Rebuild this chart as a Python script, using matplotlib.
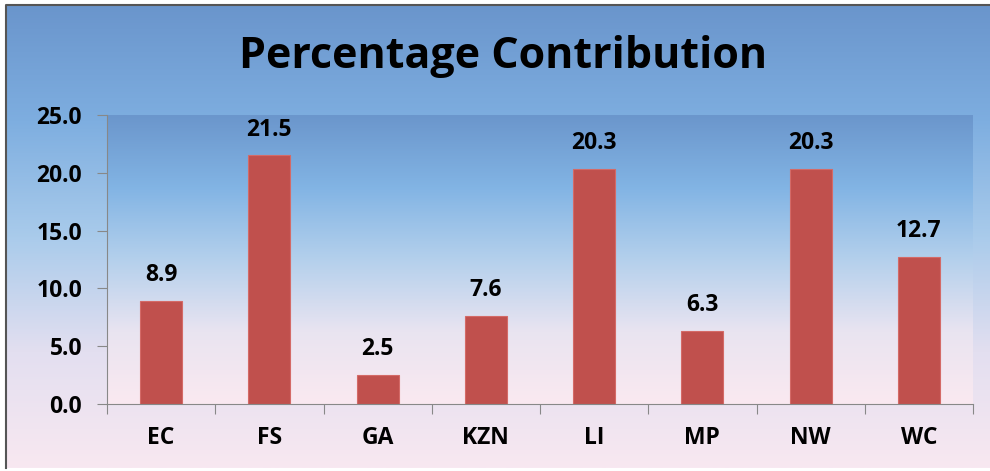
import numpy as np
import matplotlib.pyplot as plt
from matplotlib.colors import LinearSegmentedColormap

regions = ["EC", "FS", "GA", "KZN", "LI", "MP", "NW", "WC"]
values = [8.9, 21.5, 2.5, 7.6, 20.3, 6.3, 20.3, 12.7]
yticks = [0, 5, 10, 15, 20, 25]

plt.rcParams['font.family'] = ['Open Sans', 'DejaVu Sans']

fig = plt.figure(figsize=(9.9, 4.71), dpi=100)

# background gradient for the whole figure
bg = fig.add_axes([0, 0, 1, 1], zorder=-10)
grad = LinearSegmentedColormap.from_list(
    "bg", ["#6a95cc", "#7eaee0", "#a9cbeb", "#e3dff0", "#f8e8f1"])
bg.imshow(np.linspace(0, 1, 256).reshape(-1, 1), aspect="auto", cmap=grad,
          extent=[0.006, 1, 0.007, 0.99], origin="upper")
bg.set_xlim(0, 1)
bg.set_ylim(0, 1)
bg.axis("off")
# frame
bg.plot([0.006, 0.006, 1.0], [0.007, 0.99, 0.99], color="#555555", lw=1.5,
        transform=bg.transAxes, clip_on=False)

ax = fig.add_axes([107 / 990, 1 - 404 / 471, 866 / 990, 289 / 471])
pgrad = LinearSegmentedColormap.from_list(
    "pa", ["#6b96cc", "#82b4e4", "#b4d0ec", "#e9e4f1", "#fae9f0"])
ax.imshow(np.linspace(0, 1, 256).reshape(-1, 1), aspect="auto", cmap=pgrad,
          extent=[-0.5, len(regions) - 0.5, 0, 25], origin="upper", zorder=0)

x = np.arange(len(regions))
ax.bar(x, values, width=0.39, color="#c0504d", edgecolor="#d46a67",
       linewidth=0.8, zorder=2)
for xi, v in zip(x, values):
    ax.annotate(f"{v:.1f}", (xi, v), xytext=(0, 10), textcoords="offset points",
                ha="center", va="bottom", fontsize=16.5, fontweight="bold")

ax.set_xlim(-0.5, len(regions) - 0.5)
ax.set_ylim(0, 25)
ax.set_yticks(yticks)
ax.set_yticklabels([f"{t:.1f}" for t in yticks], fontsize=16.5, fontweight="bold")
ax.set_xticks(np.arange(len(regions) + 1) - 0.5)
ax.set_xticklabels([])
ax.set_xticks(x, minor=True)
ax.set_xticklabels(regions, minor=True, fontsize=16.5, fontweight="bold")
ax.tick_params(axis="x", which="minor", length=0, pad=16)
ax.tick_params(axis="x", which="major", length=7, color="#888888", direction="out")
ax.tick_params(axis="y", length=7, color="#888888", pad=11)
for s in ["top", "right"]:
    ax.spines[s].set_visible(False)
for s in ["left", "bottom"]:
    ax.spines[s].set_color("#888888")

fig.text(0.508, 1 - 68 / 471, "Percentage Contribution", ha="center",
         va="baseline", fontsize=31, fontweight="bold")

fig.savefig("out.png", dpi=100)
